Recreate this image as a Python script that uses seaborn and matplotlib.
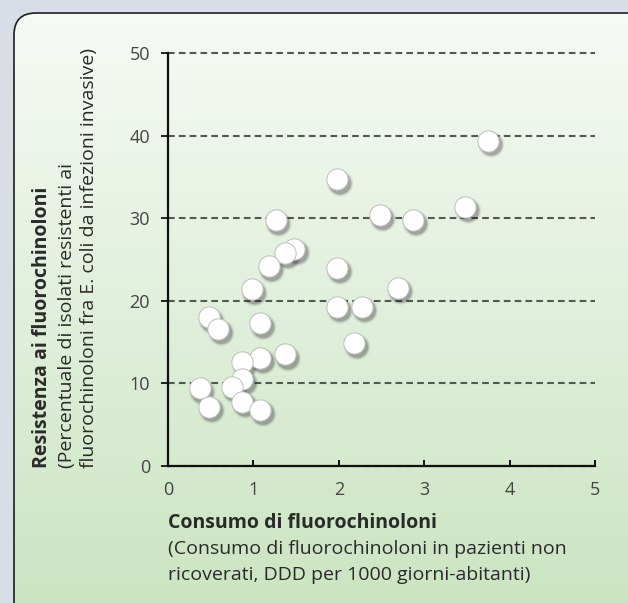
import numpy as np
import pandas as pd
import matplotlib
matplotlib.use("Agg")
import matplotlib.pyplot as plt
import matplotlib.transforms as mtransforms
from matplotlib.patches import FancyBboxPatch
import seaborn as sns

# data
consumo = [3.75, 1.98, 1.26, 2.48, 2.87, 3.48, 1.48, 1.37, 1.18, 1.98, 2.69,
           0.98, 1.98, 2.27, 0.48, 0.59, 1.08, 2.18, 1.37, 1.08, 0.87, 0.87,
           0.75, 0.37, 0.48, 0.87, 1.08]
resistenza = [39.4, 34.7, 29.8, 30.4, 29.8, 31.4, 26.3, 25.8, 24.2, 24.0, 21.6,
              21.4, 19.3, 19.3, 18.0, 16.6, 17.3, 14.9, 13.5, 13.1, 12.6, 10.5,
              9.6, 9.4, 7.2, 7.8, 6.8]
x_ticks = [0, 1, 2, 3, 4, 5]
y_ticks = [0, 10, 20, 30, 40, 50]

df = pd.DataFrame({"consumo": consumo, "resistenza": resistenza})

sns.set_theme(style="white")
plt.rcParams["font.family"] = ["Open Sans", "DejaVu Sans"]

W, H = 628, 603
fig = plt.figure(figsize=(W / 100, H / 100), dpi=100)
fig.patch.set_facecolor("#d9dde6")

# rounded panel with vertical gradient
bg = fig.add_axes([0, 0, 1, 1])
bg.set_xlim(0, W)
bg.set_ylim(H, 0)
bg.axis("off")
panel = FancyBboxPatch((14, 13), 660, 640, boxstyle="round,pad=0,rounding_size=22",
                       facecolor="none", edgecolor="#1e1e1e", lw=1.2, zorder=3)
bg.add_patch(panel)
top = np.array([0xf7, 0xfa, 0xf6]) / 255
bot = np.array([0xc7, 0xe3, 0xbd]) / 255
t = np.linspace(0, 1, 256)[:, None, None]
grad = top * (1 - t) + bot * t
grad = np.repeat(grad, 4, axis=1)
im = bg.imshow(grad, extent=[14, 674, 653, 13], aspect="auto", zorder=1)
im.set_clip_path(panel)

ax = fig.add_axes([168 / W, 1 - 466 / H, (595 - 168) / W, (466 - 53) / H])
ax.patch.set_alpha(0)

# soft drop shadows
for sz, al in [(360, 0.07), (300, 0.12), (250, 0.2)]:
    tr = mtransforms.offset_copy(ax.transData, fig=fig, x=3, y=-4, units="dots")
    sns.scatterplot(data=df, x="consumo", y="resistenza", ax=ax, s=sz,
                    color="#1a1a1a", alpha=al, edgecolor="none", linewidth=0,
                    transform=tr, legend=False, zorder=3)

sns.scatterplot(data=df, x="consumo", y="resistenza", ax=ax, s=235,
                color="white", edgecolor="#bdbdbd", linewidth=0.7,
                legend=False, zorder=4)

ax.set_xlim(0, 5)
ax.set_ylim(0, 50)
ax.set_xticks(x_ticks)
ax.set_yticks(y_ticks)
ax.set_xlabel("")
ax.set_ylabel("")

ax.grid(axis="y", color="#4f5a50", linestyle=(0, (3.2, 2.0)), linewidth=1.5)
ax.grid(axis="x", visible=False)
ax.set_axisbelow(True)
for gl in ax.get_ygridlines():
    gl.set_clip_on(False)

for s in ["top", "right"]:
    ax.spines[s].set_visible(False)
for s in ["left", "bottom"]:
    ax.spines[s].set_color("#111111")
    ax.spines[s].set_linewidth(1.6)

ax.tick_params(axis="y", direction="out", length=5, width=1.3, color="#111111",
               pad=8, labelsize=13, labelcolor="#444444")
ax.tick_params(axis="x", direction="in", length=4, width=1.4, color="#111111",
               pad=11, labelsize=13, labelcolor="#444444")
ax.tick_params(left=True, bottom=True)

fs = 14
# y axis label (three lines)
y0 = 1 - 468 / H
fig.text(42 / W, y0, "Resistenza ai fluorochinoloni", rotation=90, ha="center",
         va="bottom", fontsize=fs, fontweight="bold", color="#2a2a2a")
fig.text(67 / W, y0, "(Percentuale di isolati resistenti ai", rotation=90,
         ha="center", va="bottom", fontsize=fs, color="#2a2a2a")
fig.text(89 / W, y0, "fluorochinoloni fra E. coli da infezioni invasive)",
         rotation=90, ha="center", va="bottom", fontsize=fs, color="#2a2a2a")

# x axis label (three lines)
x0 = 168 / W
fig.text(x0, 1 - 523 / H, "Consumo di fluorochinoloni", ha="left", va="center",
         fontsize=fs, fontweight="bold", color="#2a2a2a")
fig.text(x0, 1 - 549 / H, "(Consumo di fluorochinoloni in pazienti non",
         ha="left", va="center", fontsize=fs, color="#2a2a2a")
fig.text(x0, 1 - 575 / H, "ricoverati, DDD per 1000 giorni-abitanti)",
         ha="left", va="center", fontsize=fs, color="#2a2a2a")

fig.savefig("out.png", dpi=100, facecolor=fig.get_facecolor())
